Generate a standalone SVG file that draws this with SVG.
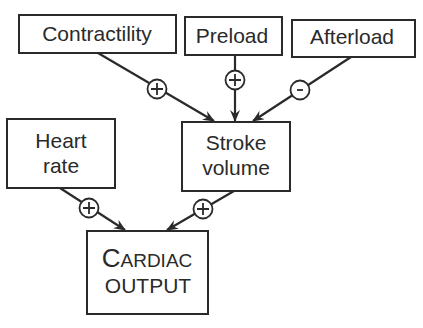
<svg xmlns="http://www.w3.org/2000/svg" width="423" height="328" viewBox="0 0 423 328">
<defs>
<style>
.box{fill:#fff;stroke:#2a2a2a;stroke-width:2}
.t{font-family:"Liberation Sans",Arial,sans-serif;font-size:21px;fill:#2a2a2a;text-anchor:middle}
.ln{stroke:#2a2a2a;stroke-width:2.2;fill:none;marker-end:url(#ah)}
.sg{fill:#fff;stroke:#2a2a2a;stroke-width:1.8}
.sy{stroke:#2a2a2a;stroke-width:1.8;fill:none}
</style>
<marker id="ah" viewBox="0 0 12 10" refX="11" refY="5" markerWidth="12" markerHeight="10" markerUnits="userSpaceOnUse" orient="auto">
<path d="M0,0 L12,5 L0,10 L4,5 z" fill="#2a2a2a"/>
</marker>
</defs>
<rect width="423" height="328" fill="#fff"/>
<g id="connectors">
<line class="ln" x1="98" y1="53" x2="214" y2="121"/>
<line class="ln" x1="235" y1="55" x2="235" y2="121"/>
<line class="ln" x1="351" y1="57" x2="253" y2="121"/>
<line class="ln" x1="60" y1="188" x2="125" y2="230"/>
<line class="ln" x1="234" y1="191" x2="167" y2="230"/>
<g id="sign-contractility"><circle class="sg" cx="157" cy="89" r="9.5"/><path class="sy" d="M151,89 h12 M157,83 v12"/></g>
<g id="sign-preload"><circle class="sg" cx="235" cy="80" r="9.5"/><path class="sy" d="M229,80 h12 M235,74 v12"/></g>
<g id="sign-afterload"><circle class="sg" cx="300" cy="90" r="9.5"/><path class="sy" d="M297,90 h6"/></g>
<g id="sign-heartrate"><circle class="sg" cx="89" cy="208" r="9.5"/><path class="sy" d="M83,208 h12 M89,202 v12"/></g>
<g id="sign-strokevolume"><circle class="sg" cx="203" cy="209" r="9.5"/><path class="sy" d="M197,209 h12 M203,203 v12"/></g>
</g>
<g id="contractility"><rect class="box" x="19" y="15" width="157" height="38"/><text class="t" x="97" y="41">Contractility</text></g>
<g id="preload"><rect class="box" x="185" y="17" width="97" height="38"/><text class="t" x="232" y="43">Preload</text></g>
<g id="afterload"><rect class="box" x="292" y="20" width="123" height="37"/><text class="t" x="352" y="44">Afterload</text></g>
<g id="heartrate"><rect class="box" x="7" y="119" width="108" height="69"/><text class="t" x="61" y="148">Heart</text><text class="t" x="61" y="173">rate</text></g>
<g id="strokevolume"><rect class="box" x="182" y="122" width="108" height="69"/><text class="t" x="236" y="150">Stroke</text><text class="t" x="236" y="175">volume</text></g>
<g id="cardiacoutput"><rect class="box" x="87" y="231" width="121" height="83"/><text class="t" x="147" y="267"><tspan font-size="26">C</tspan><tspan font-size="19">ARDIAC</tspan></text><text class="t" x="148" y="293" font-size="19">OUTPUT</text></g>
</svg>
